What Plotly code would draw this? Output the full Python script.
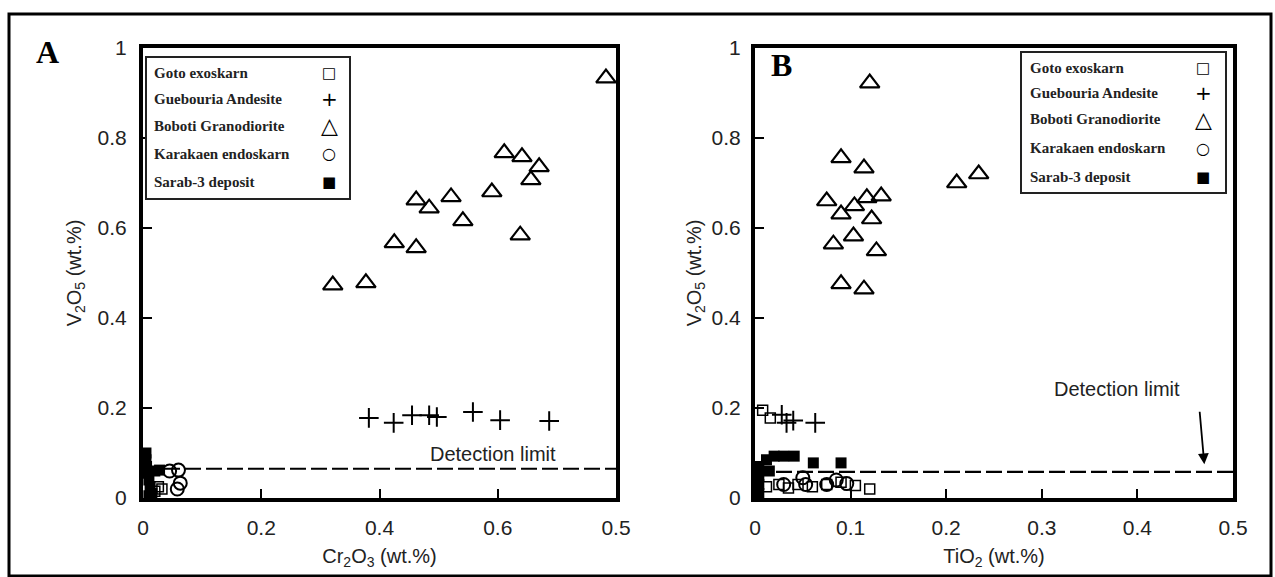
import plotly.graph_objects as go

W, H = 1275, 577

# ---------------- Data: panel A (Cr2O3 vs V2O5) ----------------
a_boboti_x = [0.321, 0.377, 0.425, 0.462, 0.462, 0.484, 0.521, 0.541, 0.590, 0.611, 0.641, 0.670, 0.656, 0.638, 0.783]
a_boboti_y = [0.473, 0.478, 0.567, 0.556, 0.662, 0.644, 0.669, 0.616, 0.680, 0.767, 0.758, 0.736, 0.707, 0.584, 0.933]
a_gueb_x = [0.382, 0.424, 0.455, 0.484, 0.497, 0.558, 0.604, 0.687]
a_gueb_y = [0.178, 0.167, 0.184, 0.184, 0.180, 0.191, 0.173, 0.171]
a_goto_x = [0.020, 0.026, 0.032]
a_goto_y = [0.015, 0.025, 0.020]
a_kara_x = [0.045, 0.060, 0.063, 0.058]
a_kara_y = [0.060, 0.062, 0.033, 0.020]
a_sarab_x = [0.005, 0.005, 0.006, 0.008, 0.010, 0.012, 0.015, 0.020, 0.028, 0.010]
a_sarab_y = [0.100, 0.085, 0.070, 0.055, 0.040, 0.025, 0.010, 0.060, 0.062, 0.005]
a_detection = 0.065

# ---------------- Data: panel B (TiO2 vs V2O5) ----------------
b_boboti_x = [0.120, 0.090, 0.114, 0.211, 0.234, 0.075, 0.090, 0.104, 0.117, 0.132, 0.122, 0.082, 0.103, 0.127, 0.090, 0.114]
b_boboti_y = [0.922, 0.756, 0.733, 0.700, 0.720, 0.660, 0.631, 0.649, 0.667, 0.671, 0.620, 0.564, 0.582, 0.549, 0.476, 0.464]
b_gueb_x = [0.028, 0.033, 0.040, 0.063]
b_gueb_y = [0.185, 0.167, 0.172, 0.167]
b_goto_x = [0.008, 0.016, 0.012, 0.025, 0.035, 0.045, 0.060, 0.075, 0.090, 0.105, 0.120]
b_goto_y = [0.195, 0.178, 0.025, 0.030, 0.022, 0.030, 0.025, 0.030, 0.035, 0.028, 0.020]
b_kara_x = [0.030, 0.053, 0.075, 0.096, 0.050, 0.085]
b_kara_y = [0.030, 0.030, 0.030, 0.032, 0.045, 0.040]
b_sarab_x = [0.004, 0.004, 0.004, 0.004, 0.012, 0.020, 0.030, 0.041, 0.061, 0.090, 0.015]
b_sarab_y = [0.010, 0.030, 0.050, 0.070, 0.085, 0.093, 0.093, 0.093, 0.078, 0.078, 0.060]
b_detection = 0.058

# tick labels
a_xticks = [0, 0.2, 0.4, 0.6, 0.8]
a_xticktext = ["0", "0.2", "0.4", "0.6", "0.5"]
b_xticks = [0, 0.1, 0.2, 0.3, 0.4, 0.5]
b_xticktext = ["0", "0.1", "0.2", "0.3", "0.4", "0.5"]
y_ticks = [0, 0.2, 0.4, 0.6, 0.8, 1.0]
y_ticktext = ["0", "0.2", "0.4", "0.6", "0.8", "1"]

legend_names = ["Goto exoskarn", "Guebouria Andesite", "Boboti Granodiorite", "Karakaen endoskarn", "Sarab-3 deposit"]
legend_symbols = ["□", "+", "△", "○", "■"]


def px(x):
    return x / W


def py(y):
    return 1 - y / H


fig = go.Figure()

styles = {
    "goto": dict(symbol="square-open", size=10, color="black", line=dict(width=1.5, color="black")),
    "gueb": dict(symbol="cross-thin-open", size=14, color="black", line=dict(width=2, color="black")),
    "boboti": dict(symbol="triangle-up-open", size=17, color="black", line=dict(width=2.2, color="black")),
    "kara": dict(symbol="circle-open", size=13, color="black", line=dict(width=2, color="black")),
    "sarab": dict(symbol="square", size=11, color="black", line=dict(width=0, color="black")),
}

panels = [
    ("x", "y", a_goto_x, a_goto_y, a_gueb_x, a_gueb_y, a_boboti_x, a_boboti_y, a_kara_x, a_kara_y, a_sarab_x, a_sarab_y, a_detection, 0.8),
    ("x2", "y2", b_goto_x, b_goto_y, b_gueb_x, b_gueb_y, b_boboti_x, b_boboti_y, b_kara_x, b_kara_y, b_sarab_x, b_sarab_y, b_detection, 0.5),
]

for (xa, ya, gx, gy, ux, uy, bx, by, kx, ky, sx, sy, dl, xmax) in panels:
    fig.add_trace(go.Scatter(x=[0, xmax], y=[dl, dl], mode="lines", xaxis=xa, yaxis=ya,
                             line=dict(color="black", width=2.2, dash="16px,5px"), showlegend=False, hoverinfo="skip"))
    for xs, ys, key in [(sx, sy, "sarab"), (gx, gy, "goto"), (kx, ky, "kara"), (ux, uy, "gueb"), (bx, by, "boboti")]:
        fig.add_trace(go.Scatter(x=xs, y=ys, mode="markers", xaxis=xa, yaxis=ya, marker=styles[key],
                                 showlegend=False, cliponaxis=False))

tickfont = dict(family="Liberation Sans, Arial, sans-serif", size=21, color="#222")
titlefont = dict(family="Liberation Sans, Arial, sans-serif", size=20, color="#222")
ydom = [py(498), py(48)]

axis_common = dict(showgrid=False, zeroline=False, showline=True, linecolor="black", linewidth=4,
                   mirror=True, ticks="inside", ticklen=9, tickwidth=2, tickcolor="black",
                   tickfont=tickfont, tickmode="array", automargin=False)

fig.update_layout(
    width=W, height=H, margin=dict(l=0, r=0, t=0, b=0),
    paper_bgcolor="white", plot_bgcolor="white", showlegend=False,
    xaxis=dict(domain=[px(143), px(616)], range=[0, 0.8], tickvals=a_xticks, ticktext=a_xticktext,
               anchor="y", ticklabelstandoff=8,
               title=dict(text="Cr<sub>2</sub>O<sub>3</sub> (wt.%)", font=titlefont, standoff=12), **axis_common),
    yaxis=dict(domain=ydom, range=[0, 1.0], tickvals=y_ticks, ticktext=y_ticktext, anchor="x",
               ticklabelstandoff=8,
               title=dict(text="V<sub>2</sub>O<sub>5</sub> (wt.%)", font=titlefont, standoff=12), **axis_common),
    xaxis2=dict(domain=[px(755), px(1233)], range=[0, 0.5], tickvals=b_xticks, ticktext=b_xticktext,
                anchor="y2", ticklabelstandoff=8,
                title=dict(text="TiO<sub>2</sub> (wt.%)", font=titlefont, standoff=12), **axis_common),
    yaxis2=dict(domain=ydom, range=[0, 1.0], tickvals=y_ticks, ticktext=y_ticktext, anchor="x2",
                ticklabelstandoff=6,
                title=dict(text="V<sub>2</sub>O<sub>5</sub> (wt.%)", font=titlefont, standoff=6), **axis_common),
)

annotations = []
shapes = []

# outer frame
shapes.append(dict(type="rect", xref="paper", yref="paper", x0=px(9), x1=px(1271), y0=py(576), y1=py(14),
                   line=dict(color="black", width=3), fillcolor="rgba(0,0,0,0)", layer="below"))

# panel letters
serif = "Liberation Serif, Times New Roman, serif"
annotations.append(dict(text="<b>A</b>", xref="paper", yref="paper", x=px(47), y=py(52), showarrow=False,
                        font=dict(family=serif, size=32, color="black"), xanchor="center", yanchor="middle"))
annotations.append(dict(text="<b>B</b>", xref="paper", yref="paper", x=px(781), y=py(65), showarrow=False,
                        font=dict(family=serif, size=32, color="black"), xanchor="center", yanchor="middle"))

# detection limit labels
annotations.append(dict(text="Detection limit", xref="x", yref="y", x=0.592, y=0.098, showarrow=False,
                        font=dict(family="Liberation Sans, Arial, sans-serif", size=20, color="#222")))
annotations.append(dict(text="Detection limit", xref="x2", yref="y2", x=0.379, y=0.242, showarrow=False,
                        font=dict(family="Liberation Sans, Arial, sans-serif", size=20, color="#222")))
annotations.append(dict(text="", xref="x2", yref="y2", x=0.47, y=0.075, ax=0.465, ay=0.195,
                        axref="x2", ayref="y2", showarrow=True, arrowhead=2, arrowsize=1.2, arrowwidth=1.8,
                        arrowcolor="black"))

# custom legends (symbol to the right of the label, as in the original)
legend_boxes = [
    dict(x0=146, x1=350, y0=57, y1=199, text_x=152, sym_x=329, rows=[73, 99, 126, 154, 182]),
    dict(x0=1021, x1=1226, y0=52, y1=193, text_x=1028, sym_x=1203, rows=[68, 93, 119, 148, 177]),
]
sym_sizes = [15, 20, 22, 16, 15]
for lb in legend_boxes:
    shapes.append(dict(type="rect", xref="paper", yref="paper", x0=px(lb["x0"]), x1=px(lb["x1"]),
                       y0=py(lb["y1"]), y1=py(lb["y0"]), line=dict(color="#222", width=2),
                       fillcolor="white", layer="above"))
    for name, sym, yy, ss in zip(legend_names, legend_symbols, lb["rows"], sym_sizes):
        annotations.append(dict(text="<b>" + name + "</b>", xref="paper", yref="paper", x=px(lb["text_x"]), y=py(yy),
                                xanchor="left", yanchor="middle", showarrow=False,
                                font=dict(family=serif, size=15, color="#222")))
        annotations.append(dict(text=sym, xref="paper", yref="paper", x=px(lb["sym_x"]), y=py(yy),
                                xanchor="center", yanchor="middle", showarrow=False,
                                font=dict(family="DejaVu Sans, sans-serif", size=ss, color="black")))

fig.update_layout(annotations=annotations, shapes=shapes)
fig.write_html("out.html", config={"displayModeBar": False},
               post_script="document.body.style.margin='0';document.body.style.overflow='hidden';")
